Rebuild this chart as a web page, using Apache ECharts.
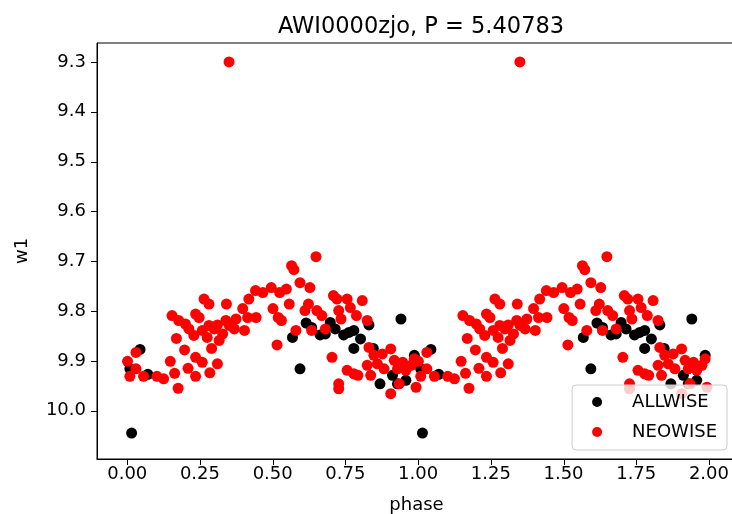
<!DOCTYPE html>
<html>
<head>
<meta charset="utf-8">
<script src="https://cdn.jsdelivr.net/npm/echarts@6/dist/echarts.min.js"></script>
<style>
html,body{margin:0;padding:0;background:#fff;}
#chart{width:732px;height:514px;}
</style>
</head>
<body>
<div id="chart"></div>
<script>
// ---- data (phase in [0,1), magnitude w1) ----
const titleText = "AWI0000zjo, P = 5.40783";
const xTicks = [0, 0.25, 0.5, 0.75, 1.0, 1.25, 1.5, 1.75, 2.0];
const yTicks = [9.3, 9.4, 9.5, 9.6, 9.7, 9.8, 9.9, 10.0];

const allwisePhase = [0.015, 0.009, 0.044, 0.071, 0.568, 0.594, 0.615, 0.634, 0.663, 0.681, 0.698, 0.715, 0.744, 0.762, 0.779, 0.779, 0.802, 0.831, 0.846, 0.869, 0.912, 0.929, 0.941, 0.958, 0.987];
const allwiseMag   = [10.045, 9.916, 9.877, 9.927, 9.853, 9.916, 9.824, 9.833, 9.848, 9.846, 9.823, 9.836, 9.848, 9.843, 9.839, 9.875, 9.856, 9.828, 9.875, 9.946, 9.929, 9.946, 9.816, 9.939, 9.889];

const neowisePhase = [0.001, 0.009, 0.030, 0.030, 0.056, 0.102, 0.125, 0.175, 0.163, 0.148, 0.169, 0.154, 0.197, 0.209, 0.235, 0.235, 0.258, 0.284, 0.310, 0.290, 0.316, 0.177, 0.200, 0.212, 0.229, 0.235, 0.247, 0.264, 0.281, 0.258, 0.275, 0.281, 0.299, 0.310, 0.328, 0.339, 0.341, 0.351, 0.368, 0.374, 0.397, 0.403, 0.414, 0.418, 0.443, 0.441, 0.466, 0.495, 0.501, 0.519, 0.530, 0.515, 0.524, 0.547, 0.557, 0.565, 0.573, 0.580, 0.594, 0.611, 0.623, 0.628, 0.649, 0.634, 0.652, 0.669, 0.681, 0.709, 0.721, 0.727, 0.704, 0.727, 0.727, 0.735, 0.756, 0.756, 0.767, 0.779, 0.788, 0.793, 0.808, 0.825, 0.831, 0.825, 0.837, 0.848, 0.860, 0.877, 0.883, 0.906, 0.906, 0.918, 0.929, 0.935, 0.947, 0.958, 0.976, 0.987, 0.993, 0.350];
const neowiseMag   = [9.901, 9.931, 9.883, 9.916, 9.931, 9.931, 9.936, 9.955, 9.925, 9.901, 9.855, 9.809, 9.878, 9.915, 9.931, 9.893, 9.903, 9.924, 9.906, 9.875, 9.859, 9.819, 9.826, 9.836, 9.849, 9.806, 9.813, 9.776, 9.786, 9.839, 9.853, 9.829, 9.836, 9.828, 9.846, 9.819, 9.786, 9.829, 9.836, 9.816, 9.795, 9.839, 9.813, 9.776, 9.813, 9.759, 9.763, 9.753, 9.795, 9.813, 9.819, 9.868, 9.763, 9.756, 9.786, 9.709, 9.717, 9.839, 9.743, 9.799, 9.786, 9.753, 9.691, 9.839, 9.799, 9.809, 9.836, 9.769, 9.776, 9.799, 9.893, 9.946, 9.956, 9.816, 9.776, 9.919, 9.793, 9.926, 9.809, 9.929, 9.779, 9.819, 9.873, 9.909, 9.929, 9.889, 9.906, 9.886, 9.916, 9.876, 9.966, 9.899, 9.916, 9.946, 9.903, 9.919, 9.909, 9.896, 9.953, 9.300];

// phase-folded plot shows two cycles: phase and phase + 1
function twoCycles(ph, mag) {
  const out = [];
  for (let i = 0; i < ph.length; i++) out.push([ph[i], mag[i]]);
  for (let i = 0; i < ph.length; i++) out.push([ph[i] + 1, mag[i]]);
  return out;
}

const FONT = 'DejaVu Sans';
const FS = 18;
const TICK = 6;
const chart = echarts.init(document.getElementById('chart'), null, {renderer: 'canvas'});
chart.setOption({
  animation: false,
  backgroundColor: '#ffffff',
  title: {
    text: titleText,
    left: 416, top: 11, textAlign: 'center',
    textStyle: {fontFamily: FONT, fontSize: 22.5, fontWeight: 'normal', color: '#000'}
  },
  grid: {left: 97, right: -4, top: 43, bottom: 55, outerBoundsMode: 'none', containLabel: false,
    show: true, borderColor: '#000', borderWidth: 1, backgroundColor: 'transparent'},
  xAxis: {
    type: 'value', min: -0.104, max: 2.093,
    name: 'phase', nameLocation: 'middle', nameGap: 37,
    nameTextStyle: {fontFamily: FONT, fontSize: FS, color: '#000'},
    axisLine: {show: true, onZero: false, lineStyle: {color: '#000', width: 1}},
    splitLine: {show: false},
    axisTick: {show: false},
    axisLabel: {fontFamily: FONT, fontSize: FS, color: '#000', margin: 6, customValues: xTicks,
      formatter: v => v.toFixed(2)}
  },
  yAxis: {
    type: 'value', inverse: true, min: 9.262, max: 10.097,
    name: 'w1', nameLocation: 'middle', nameGap: 66, nameRotate: 90,
    nameTextStyle: {fontFamily: FONT, fontSize: FS, color: '#000'},
    axisLine: {show: true, onZero: false, lineStyle: {color: '#000', width: 1}},
    splitLine: {show: false},
    axisTick: {show: false},
    axisLabel: {fontFamily: FONT, fontSize: FS, color: '#000', margin: 11, customValues: yTicks,
      formatter: v => v.toFixed(1)}
  },
  legend: {
    orient: 'vertical', right: 5, bottom: 64,
    backgroundColor: 'rgba(255,255,255,0.8)', borderColor: '#cccccc', borderWidth: 1, borderRadius: 4,
    padding: [8, 10, 9, 20], itemGap: 12, itemWidth: 10, itemHeight: 10,
    textStyle: {fontFamily: FONT, fontSize: FS, color: '#000', padding: [0, 0, 0, 25]},
    data: [{name: 'ALLWISE', icon: 'circle'}, {name: 'NEOWISE', icon: 'circle'}]
  },
  series: [
    {name: 'ALLWISE', type: 'scatter', symbolSize: 11, itemStyle: {color: '#000000', opacity: 1},
     data: twoCycles(allwisePhase, allwiseMag)},
    {name: 'NEOWISE', type: 'scatter', symbolSize: 11, itemStyle: {color: '#ff0000', opacity: 1},
     data: twoCycles(neowisePhase, neowiseMag)}
  ]
});

// outward tick marks, placed through the axes' own scales
const yMaxVal = 10.097, xMinVal = -0.104;
const tickEls = [];
xTicks.forEach(v => {
  const p = chart.convertToPixel({gridIndex: 0}, [v, yMaxVal]);
  const x = Math.round(p[0]) + 0.5, y = Math.round(p[1]);
  tickEls.push({type: 'line', silent: true, shape: {x1: x, y1: y, x2: x, y2: y + TICK},
    style: {stroke: '#000', lineWidth: 1}});
});
yTicks.forEach(v => {
  const p = chart.convertToPixel({gridIndex: 0}, [xMinVal, v]);
  const x = Math.round(p[0]), y = Math.round(p[1]) + 0.5;
  tickEls.push({type: 'line', silent: true, shape: {x1: x - TICK, y1: y, x2: x, y2: y},
    style: {stroke: '#000', lineWidth: 1}});
});
chart.setOption({graphic: tickEls});
</script>
</body>
</html>
